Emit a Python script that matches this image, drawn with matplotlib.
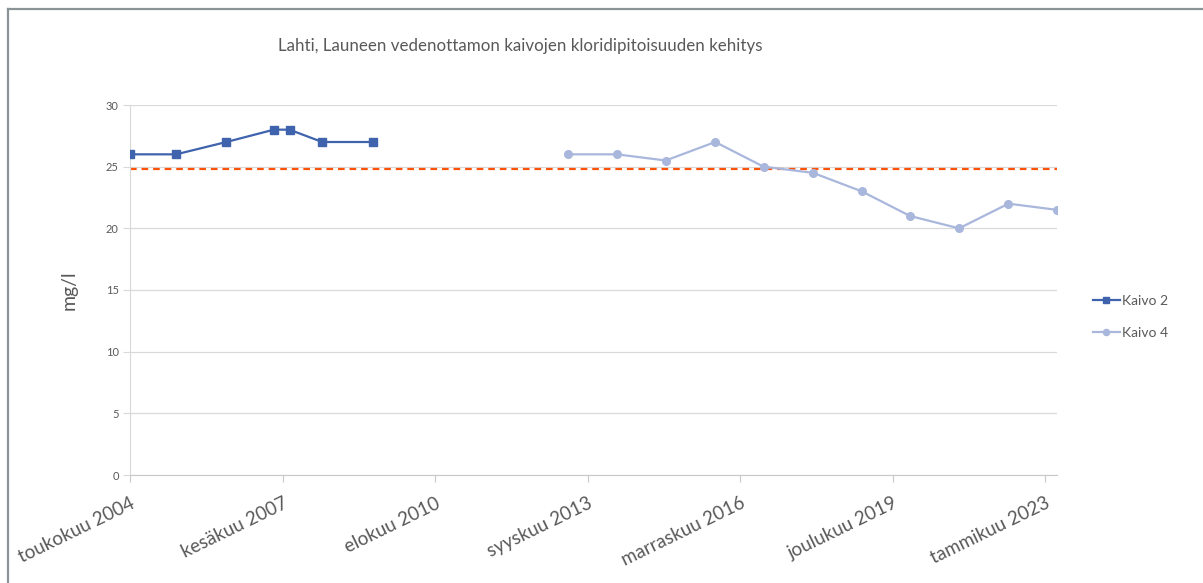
import matplotlib
matplotlib.use('Agg')
from matplotlib import pyplot as plt
from matplotlib.lines import Line2D
import pandas as pd

# chloride in wells of Launeen vedenottamo, Lahti (mg/l)
kaivo2_dates = ['2004-05-15', '2005-04-25', '2006-05-05', '2007-04-25',
                '2007-08-20', '2008-04-20', '2009-05-05']
kaivo2_values = [26, 26, 27, 28, 28, 27, 27]

kaivo4_dates = ['2013-05-01', '2014-05-01', '2015-05-01', '2016-05-05',
                '2017-05-01', '2018-05-05', '2019-05-05', '2020-04-30',
                '2021-05-01', '2022-05-05', '2023-05-01']
kaivo4_values = [26, 26, 25.5, 27, 25, 24.5, 23, 21, 20, 22, 21.5]

limit_value = 24.8

tick_labels = ['toukokuu 2004', 'kesäkuu 2007', 'elokuu 2010', 'syyskuu 2013',
               'marraskuu 2016', 'joulukuu 2019', 'tammikuu 2023']

title = 'Lahti, Launeen vedenottamon kaivojen kloridipitoisuuden kehitys'

plt.rcParams['font.family'] = ['Lato', 'DejaVu Sans']
grey_text = '#595959'

fig = plt.figure(figsize=(12.03, 5.83), dpi=100)
ax = fig.add_axes([130 / 1203, 1 - 475 / 583, (1057 - 130) / 1203, (475 - 105) / 583])

ax.plot(pd.to_datetime(kaivo2_dates), kaivo2_values, color='#3f63ad', lw=1.6,
        marker='s', markersize=5.5, label='Kaivo 2', zorder=3)
ax.plot(pd.to_datetime(kaivo4_dates), kaivo4_values, color='#a9b7dc', lw=1.6,
        marker='o', markersize=5.5, label='Kaivo 4', zorder=3)
ax.axhline(limit_value, color='#ff5309', lw=1.6, dashes=(3, 2.2), zorder=2)

ax.set_ylim(0, 30)
ax.set_yticks(range(0, 31, 5))
ax.set_xlim(pd.Timestamp('2004-05-15'), pd.Timestamp('2023-05-03'))
ticks = pd.date_range('2004-05-15', periods=7, freq='1140D')
ax.set_xticks(ticks)
ax.set_xticklabels(tick_labels, rotation=26, ha='right', rotation_mode='anchor')

ax.grid(axis='y', color='#d9d9d9', lw=0.9)
ax.set_axisbelow(True)
for side in ['top', 'right']:
    ax.spines[side].set_visible(False)
ax.spines['left'].set_color('#d9d9d9')
ax.spines['bottom'].set_color('#c8c8c8')
ax.tick_params(axis='y', labelsize=8, labelcolor=grey_text, color='#d9d9d9', length=5, pad=3)
ax.tick_params(axis='x', labelsize=13.5, labelcolor=grey_text, color='#c8c8c8', length=5, pad=9)

ax.set_ylabel('mg/l', fontsize=14, color=grey_text, labelpad=20)

fig.text(520 / 1203, 1 - 46 / 583, title, ha='center', va='center',
         fontsize=12.2, color=grey_text)

handles, labels = ax.get_legend_handles_labels()
leg = fig.legend(handles, labels, loc='center left',
                 bbox_to_anchor=(1080 / 1203, 1 - 317 / 583),
                 frameon=False, fontsize=10, labelcolor=grey_text,
                 handlelength=2.0, handletextpad=0.1, labelspacing=1.45,
                 markerscale=0.8)

# frame of the chart area (only top and left edges show)
fig.add_artist(Line2D([8 / 1203, 8 / 1203], [0, 1 - 9 / 583], color='#8a9396', lw=1.6))
fig.add_artist(Line2D([8 / 1203, 1], [1 - 9 / 583, 1 - 9 / 583], color='#8a9396', lw=1.6))

fig.savefig('out.png', dpi=100, facecolor='white')
